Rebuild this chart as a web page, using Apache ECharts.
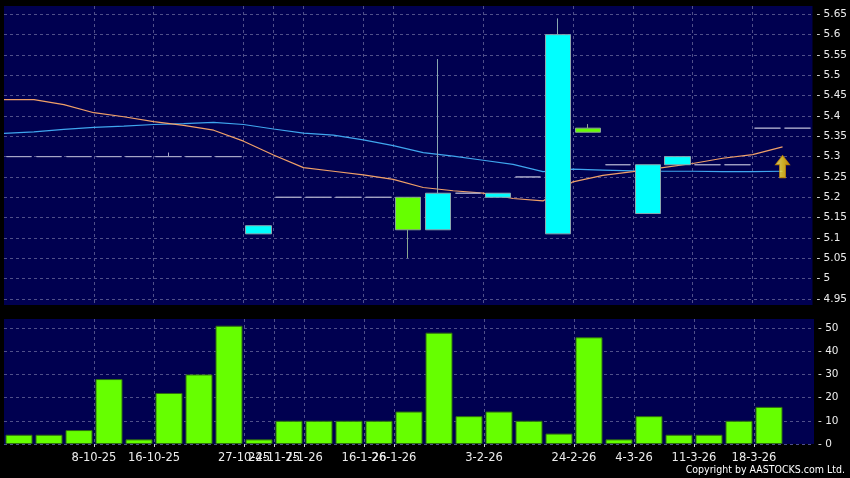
<!DOCTYPE html>
<html>
<head>
<meta charset="utf-8">
<script src="https://cdn.jsdelivr.net/npm/echarts@6/dist/echarts.min.js"></script>
<style>
html,body{margin:0;padding:0;background:#000;}
#c{width:850px;height:478px;}
</style>
</head>
<body>
<div id="c"></div>
<script>
// ---- data ----
const categories = ['2-10-25','3-10-25','6-10-25','8-10-25','10-10-25','16-10-25','20-10-25','23-10-25','27-10-25','24-11-25','7-1-26','12-1-26','16-1-26','26-1-26','28-1-26','30-1-26','3-2-26','10-2-26','20-2-26','24-2-26','2-3-26','4-3-26','9-3-26','11-3-26','16-3-26','18-3-26','20-3-26'];
const tickLabels = ['8-10-25','16-10-25','27-10-25','24-11-25','7-1-26','16-1-26','26-1-26','3-2-26','24-2-26','4-3-26','11-3-26','18-3-26'];
const openP  = [5.30,5.30,5.30,5.30,5.30,5.30,5.30,5.30,5.11,5.20,5.20,5.20,5.20,5.20,5.12,5.21,5.20,5.25,5.11,5.37,5.28,5.16,5.28,5.28,5.28,5.37,5.37];
const closeP = [5.30,5.30,5.30,5.30,5.30,5.30,5.30,5.30,5.13,5.20,5.20,5.20,5.20,5.12,5.21,5.21,5.21,5.25,5.60,5.36,5.28,5.28,5.30,5.28,5.28,5.37,5.37];
const lowP   = [5.30,5.30,5.30,5.30,5.30,5.30,5.30,5.30,5.11,5.20,5.20,5.20,5.20,5.05,5.12,5.21,5.20,5.25,5.11,5.36,5.28,5.16,5.28,5.28,5.28,5.37,5.37];
const highP  = [5.30,5.30,5.30,5.30,5.30,5.31,5.30,5.30,5.13,5.20,5.20,5.20,5.20,5.20,5.54,5.21,5.21,5.25,5.64,5.38,5.28,5.28,5.30,5.28,5.28,5.37,5.37];
const volume = [4,4,6,28,2,22,30,51,2,10,10,10,10,14,48,12,14,10,4.5,46,2,12,4,4,10,16,null];
// moving averages, sampled at the slot boundaries (28 points, last unused)
const maShort = [5.440,5.440,5.428,5.408,5.398,5.386,5.377,5.365,5.338,5.304,5.273,5.264,5.255,5.244,5.224,5.216,5.210,5.197,5.191,5.238,5.254,5.263,5.273,5.283,5.296,5.305,5.324,null];
const maLong  = [5.357,5.361,5.367,5.372,5.375,5.379,5.381,5.384,5.379,5.368,5.358,5.353,5.341,5.327,5.310,5.301,5.291,5.281,5.263,5.269,5.267,5.265,5.264,5.264,5.263,5.263,5.264,null];
const arrowIndex = 26;
const arrowPrice = 5.2755;
const priceTicks = [4.95,5,5.05,5.1,5.15,5.2,5.25,5.3,5.35,5.4,5.45,5.5,5.55,5.6,5.65];
const volumeTicks = [0,10,20,30,40,50];

// ---- build ----
const boundaries = categories.concat(['']);
const candleData = categories.map((c,i)=>[openP[i],closeP[i],lowP[i],highP[i]]);
const showTick = (idx, val) => tickLabels.indexOf(val) >= 0;
const gridLine = {show:true, interval: showTick, lineStyle:{color:'#50508a', type:[3,3], width:1}};
const hGridLine = {show:true, lineStyle:{color:'#50508a', type:[3,3], width:1}};
const txt = '#ececec';
const font = 'DejaVu Sans';

const chart = echarts.init(document.getElementById('c'), null, {renderer:'canvas'});
chart.setOption({
  backgroundColor:'#000000',
  animation:false,
  grid:[
    {left:4, right:36, top:6, bottom:173, show:true, backgroundColor:'#000050', borderWidth:0},
    {left:4, right:36, top:319, bottom:34, show:true, backgroundColor:'#000050', borderWidth:0}
  ],
  xAxis:[
    {type:'category', gridIndex:0, data:categories, boundaryGap:true, show:false, position:'bottom'},
    {type:'category', gridIndex:0, data:boundaries, boundaryGap:false, position:'bottom',
      axisLine:{show:false}, axisTick:{show:false}, axisLabel:{show:false}, splitLine:gridLine},
    {type:'category', gridIndex:1, data:categories, boundaryGap:true, show:false, position:'bottom'},
    {type:'category', gridIndex:1, data:boundaries, boundaryGap:false, position:'bottom',
      axisLine:{show:false},
      axisTick:{show:true, interval:showTick, length:3, lineStyle:{color:'#cccccc'}},
      axisLabel:{show:true, interval:showTick, color:txt, fontFamily:font, fontSize:11.5, margin:8},
      splitLine:gridLine}
  ],
  yAxis:[
    {type:'value', gridIndex:0, position:'right', min:4.935, max:5.6705, scale:true,
      axisLine:{show:false},
      axisTick:{show:false, customValues:priceTicks},
      axisLabel:{color:txt, fontFamily:font, fontSize:10.5, margin:4, customValues:priceTicks,
        formatter:v=>'- ' + String(+v.toFixed(2))},
      splitLine:hGridLine},
    {type:'value', gridIndex:1, position:'right', min:0, max:53.9,
      axisLine:{show:false},
      axisTick:{show:false, customValues:volumeTicks},
      axisLabel:{color:txt, fontFamily:font, fontSize:10.5, margin:4, customValues:volumeTicks,
        formatter:v=>'- ' + v},
      splitLine:hGridLine}
  ],
  series:[
    {type:'line', xAxisIndex:1, yAxisIndex:0, data:maLong, symbol:'none', z:3,
      lineStyle:{color:'#3fa6ee', width:1.2}},
    {type:'line', xAxisIndex:1, yAxisIndex:0, data:maShort, symbol:'none', z:3,
      lineStyle:{color:'#f0a068', width:1.2}},
    {type:'candlestick', xAxisIndex:0, yAxisIndex:0, data:candleData, barWidth:26, z:4,
      itemStyle:{color:'#00ffff', color0:'#66ff00', borderColor:'#8aa8b0', borderColor0:'#8aa890',
        borderColorDoji:'#a8a8c8', borderWidth:1}},
    {type:'scatter', xAxisIndex:1, yAxisIndex:0, z:5,
      data:[[arrowIndex, arrowPrice]],
      symbol:'path://M7,0 L14,9 L10,9 L10,22 L4,22 L4,9 L0,9 Z', symbolSize:[14,22],
      itemStyle:{color:new echarts.graphic.LinearGradient(0,0,1,0,[{offset:0,color:'#fff68a'},{offset:0.5,color:'#ffdc20'},{offset:1,color:'#eaa800'}]),
        borderColor:'#d09000', borderWidth:1}},
    {type:'bar', xAxisIndex:2, yAxisIndex:1, data:volume, barWidth:27,
      itemStyle:{color:'#66ff00', borderColor:'#2e6e10', borderWidth:1}}
  ],
  graphic:[
    {type:'text', x:845, y:470, scaleX:0.86, scaleY:1,
      style:{text:'Copyright by AASTOCKS.com Ltd.', fill:'#ffffff', font:'11px "DejaVu Sans"', align:'right', verticalAlign:'middle'}}
  ]
});
</script>
</body>
</html>
